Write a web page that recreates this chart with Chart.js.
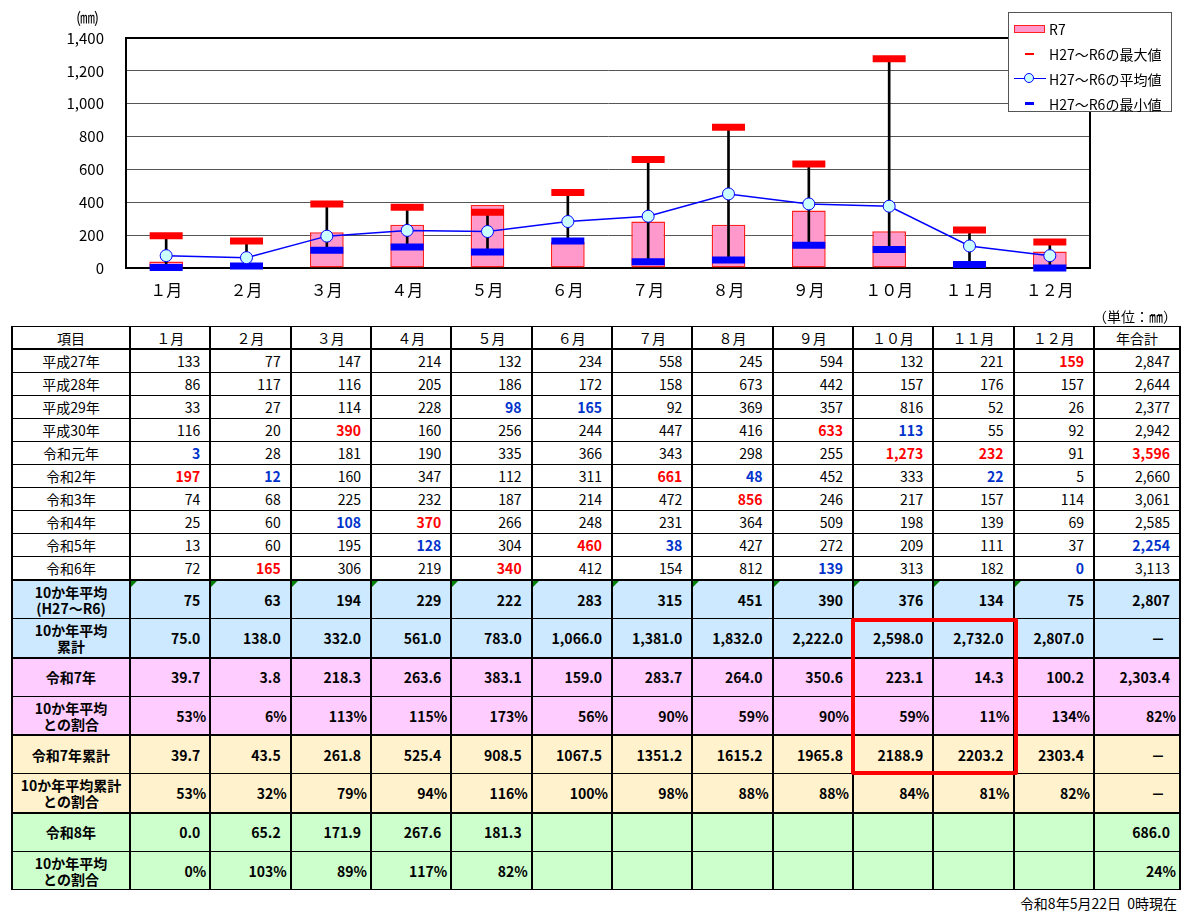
<!DOCTYPE html>
<html lang="ja">
<head>
<meta charset="utf-8">
<title>月別降水量</title>
<script src="https://cdn.jsdelivr.net/npm/chart.js@4.4.1/dist/chart.umd.min.js"></script>
<style>
  body { margin: 0; width: 1181px; height: 911px; background: #fff; position: relative; overflow: hidden;
         font-family: "Noto Sans CJK JP", "Noto Sans", sans-serif; color: #000; }
  #chartBox { position: absolute; left: 0; top: 0; width: 1181px; height: 312px; }
  #unit { position: absolute; left: 76px; top: 6px; font-size: 15px; letter-spacing: -1px; }
  #legend { position: absolute; left: 1008px; top: 12px; width: 164px; height: 100px; box-sizing: border-box;
            border: 1px solid #555; background: #fff; padding-top: 3px; }
  #legend .item { height: 25px; display: flex; align-items: center; font-size: 14px; }
  #legend .sym { width: 32px; height: 14px; margin-left: 5px; margin-right: 3px; position: relative; }
  #unitTbl { position: absolute; right: 4px; top: 306px; font-size: 14px; }
  #tbl { position: absolute; left: 11px; top: 326px; width: 1168px; border-collapse: collapse; table-layout: fixed; }
  #tbl td { border: 1px solid #000; border-left-width: 2px; border-right-width: 2px; padding: 0; font-size: 14px;
            line-height: 16px; text-align: right; padding-right: 9px; position: relative; white-space: nowrap; }
  #tbl td.lbl { text-align: center; padding-right: 0; }
  #tbl tr.head td { text-align: center; padding-right: 0; height: 21px; border-bottom-width: 2px; }
  #tbl tr.year td { height: 22px; }
  #tbl tr.big td { height: 37.3px; font-weight: bold; }
  #tbl tr.sep td { border-top-width: 2px; }
  #tbl td.pct { padding-right: 3px; }
  #tbl td.hi { color: #ff0000; font-weight: bold; }
  #tbl td.lo { color: #0033cc; font-weight: bold; }
  #tbl td.tri::before { content: ""; position: absolute; left: 0; top: 0;
                        border-top: 6px solid #008000; border-right: 6px solid transparent; }
  #redBox { position: absolute; left: 851px; top: 618px; width: 167px; height: 157px; box-sizing: border-box;
            border: 4px solid #ff0000; border-radius: 2px; }
  #stamp { position: absolute; right: 4px; top: 893px; font-size: 14px; }
</style>
</head>
<body>
<div id="chartBox"><canvas id="chart"></canvas></div>
<div id="unit">(㎜)</div>
<div id="legend"></div>
<div id="unitTbl">（単位：㎜）</div>
<table id="tbl"></table>
<div id="redBox"></div>
<div id="stamp">令和8年5月22日&nbsp;&nbsp;0時現在</div>

<script>
// ---------- data ----------
const months = ["１月", "２月", "３月", "４月", "５月", "６月", "７月", "８月", "９月", "１０月", "１１月", "１２月"];
const yTicks = [0, 200, 400, 600, 800, 1000, 1200, 1400];

const r7 = [39.7, 3.8, 218.3, 263.6, 383.1, 159.0, 283.7, 264.0, 350.6, 223.1, 14.3, 100.2];
const avg10 = [75, 63, 194, 229, 222, 283, 315, 451, 390, 376, 134, 75];
const max10 = [197, 165, 390, 370, 340, 460, 661, 856, 633, 1273, 232, 159];
const min10 = [3, 12, 108, 128, 98, 165, 38, 48, 139, 113, 22, 0];

const years = ["平成27年", "平成28年", "平成29年", "平成30年", "令和元年", "令和2年", "令和3年", "令和4年", "令和5年", "令和6年"];
const rainByYear = [
  [133, 77, 147, 214, 132, 234, 558, 245, 594, 132, 221, 159],
  [86, 117, 116, 205, 186, 172, 158, 673, 442, 157, 176, 157],
  [33, 27, 114, 228, 98, 165, 92, 369, 357, 816, 52, 26],
  [116, 20, 390, 160, 256, 244, 447, 416, 633, 113, 55, 92],
  [3, 28, 181, 190, 335, 366, 343, 298, 255, 1273, 232, 91],
  [197, 12, 160, 347, 112, 311, 661, 48, 452, 333, 22, 5],
  [74, 68, 225, 232, 187, 214, 472, 856, 246, 217, 157, 114],
  [25, 60, 108, 370, 266, 248, 231, 364, 509, 198, 139, 69],
  [13, 60, 195, 128, 304, 460, 38, 427, 272, 209, 111, 37],
  [72, 165, 306, 219, 340, 412, 154, 812, 139, 313, 182, 0]
];
const yearTotals = [2847, 2644, 2377, 2942, 3596, 2660, 3061, 2585, 2254, 3113];
const totalMax = 3596;
const totalMin = 2254;

const avg10Total = 2807;
const avg10Cum = [75.0, 138.0, 332.0, 561.0, 783.0, 1066.0, 1381.0, 1832.0, 2222.0, 2598.0, 2732.0, 2807.0];
const r7Total = 2303.4;
const r7Pct = [53, 6, 113, 115, 173, 56, 90, 59, 90, 59, 11, 134];
const r7PctTotal = 82;
const r7Cum = [39.7, 43.5, 261.8, 525.4, 908.5, 1067.5, 1351.2, 1615.2, 1965.8, 2188.9, 2203.2, 2303.4];
const r7CumPct = [53, 32, 79, 94, 116, 100, 98, 88, 88, 84, 81, 82];
const r8 = [0.0, 65.2, 171.9, 267.6, 181.3, null, null, null, null, null, null, null];
const r8Total = 686.0;
const r8Pct = [0, 103, 89, 117, 82, null, null, null, null, null, null, null];
const r8PctTotal = 24;

// ---------- chart ----------
const frame = {
  id: "frame",
  beforeDatasetsDraw(c) {
    const { ctx, chartArea: a } = c;
    ctx.save();
    ctx.strokeStyle = "#000";
    ctx.lineWidth = 2;
    ctx.strokeRect(a.left, a.top, a.right - a.left, a.bottom - a.top);
    ctx.restore();
  }
};

const chart = new Chart(document.getElementById("chart"), {
  type: "bar",
  data: {
    labels: months,
    datasets: [
      {
        type: "bar", label: "R7", data: r7, order: 3, grouped: false,
        backgroundColor: "#ff99cc", borderColor: "#ff2020", borderWidth: 1.5, borderSkipped: false,
        barPercentage: 0.42, categoryPercentage: 1
      },
      {
        type: "line", label: "H27～R6の最大値", data: max10, order: 1, showLine: false, clip: false,
        pointStyle: "line", pointRadius: 16.5, pointBorderWidth: 7, pointBorderColor: "#ff0000", borderColor: "#ff0000"
      },
      {
        type: "line", label: "H27～R6の平均値", data: avg10, order: 0, clip: false,
        borderColor: "#0000ff", borderWidth: 1.5, pointRadius: 6, pointBorderWidth: 1,
        pointBackgroundColor: "#ccffff", pointBorderColor: "#0000ff"
      },
      {
        type: "line", label: "H27～R6の最小値", data: min10, order: 1, showLine: false, clip: false,
        pointStyle: "line", pointRadius: 16.5, pointBorderWidth: 7, pointBorderColor: "#0000ff", borderColor: "#0000ff"
      },
      {
        type: "bar", label: "range", legend: false, data: months.map((m, i) => [min10[i], max10[i]]),
        order: 2, grouped: false, backgroundColor: "#000", barThickness: 2
      }
    ]
  },
  options: {
    responsive: true,
    maintainAspectRatio: false,
    animation: false,
    layout: { padding: { top: 38, right: 91, left: 0, bottom: 0 } },
    plugins: { legend: { display: false }, tooltip: { enabled: false } },
    scales: {
      x: {
        afterFit: s => { s.height = 44; },
        grid: { display: false },
        border: { display: true, color: "#000", width: 2 },
        ticks: { color: "#000", padding: 4, font: { family: "Noto Sans CJK JP", size: 16 } }
      },
      y: {
        min: 0, max: 1400,
        afterFit: s => { s.width = 126; },
        afterBuildTicks: s => { s.ticks = yTicks.map(v => ({ value: v })); },
        grid: { color: "#555", lineWidth: ctx => (ctx.tick && ctx.tick.value === 1400 ? 2 : 1), drawTicks: false },
        border: { display: true, color: "#000", width: 2 },
        ticks: { color: "#000", padding: 22, font: { family: "Noto Sans CJK JP", size: 15 },
                 callback: v => v.toLocaleString("en-US") }
      }
    }
  },
  plugins: [frame]
});

// ---------- legend ----------
const legend = document.getElementById("legend");
chart.data.datasets.filter(d => d.legend !== false).forEach(d => {
  const item = document.createElement("div");
  item.className = "item";
  const sym = document.createElement("span");
  sym.className = "sym";
  if (d.type === "bar") {
    sym.innerHTML = `<span style="position:absolute;left:0;top:3px;width:29px;height:6px;background:${d.backgroundColor};border:1.5px solid ${d.borderColor}"></span>`;
  } else if (d.showLine === false) {
    const h = d.pointBorderColor === "#ff0000" ? 2 : 3;
    sym.innerHTML = `<span style="position:absolute;left:11px;top:${7 - h / 2}px;width:9px;height:${h}px;background:${d.pointBorderColor}"></span>`;
  } else {
    sym.innerHTML = `<span style="position:absolute;left:0;top:6px;width:32px;height:1.5px;background:${d.borderColor}"></span>` +
      `<span style="position:absolute;left:10px;top:1px;width:10px;height:10px;box-sizing:border-box;border-radius:50%;background:${d.pointBackgroundColor};border:1px solid ${d.pointBorderColor}"></span>`;
  }
  item.appendChild(sym);
  item.appendChild(document.createTextNode(d.label));
  legend.appendChild(item);
});

// ---------- table ----------
const fmtInt = v => v.toLocaleString("en-US");
const fmt1c = v => v.toLocaleString("en-US", { minimumFractionDigits: 1, maximumFractionDigits: 1 });
const fmt1 = v => v.toFixed(1);
const fmtPct = v => v + "%";

const tbl = document.getElementById("tbl");
let html = "<colgroup><col style='width:118px'>" + months.map(() => "<col style='width:80.33px'>").join("") +
           "<col style='width:86px'></colgroup>";
html += "<tr class='head'><td>項目</td>" + months.map(m => `<td>${m}</td>`).join("") + "<td>年合計</td></tr>";

rainByYear.forEach((row, r) => {
  html += `<tr class='year'><td class='lbl'>${years[r]}</td>`;
  row.forEach((v, i) => {
    const cls = v === max10[i] ? "hi" : v === min10[i] ? "lo" : "";
    html += `<td class='${cls}'>${fmtInt(v)}</td>`;
  });
  const t = yearTotals[r];
  html += `<td class='${t === totalMax ? "hi" : t === totalMin ? "lo" : ""}'>${fmtInt(t)}</td></tr>`;
});

function bigRow(label, vals, fmt, total, bg, opts) {
  opts = opts || {};
  let s = `<tr class='big${opts.sep ? " sep" : ""}' style='background:${bg}'><td class='lbl'>${label}</td>`;
  vals.forEach(v => {
    const cls = (opts.pct ? "pct " : "") + (opts.tri ? "tri" : "");
    s += `<td class='${cls}'>${v === null ? "" : fmt(v)}</td>`;
  });
  if (total === null) s += "<td style='padding-right:14px'>－</td>";
  else s += `<td class='${opts.pct ? "pct" : ""}'>${fmt(total)}</td>`;
  return s + "</tr>";
}

const blue = "#cce9ff", pink = "#ffccff", peach = "#fff2cc", green = "#ccffcc";
html += bigRow("10か年平均<br>(H27～R6)", avg10, fmtInt, avg10Total, blue, { sep: true, tri: true });
html += bigRow("10か年平均<br>累計", avg10Cum, fmt1c, null, blue);
html += bigRow("令和7年", r7, fmt1c, r7Total, pink, { sep: true });
html += bigRow("10か年平均<br>との割合", r7Pct, fmtPct, r7PctTotal, pink, { pct: true });
html += bigRow("令和7年累計", r7Cum, fmt1, null, peach, { sep: true });
html += bigRow("10か年平均累計<br>との割合", r7CumPct, fmtPct, null, peach, { pct: true });
html += bigRow("令和8年", r8, fmt1, r8Total, green, { sep: true });
html += bigRow("10か年平均<br>との割合", r8Pct, fmtPct, r8PctTotal, green, { pct: true });
tbl.innerHTML = html;
</script>
</body>
</html>
